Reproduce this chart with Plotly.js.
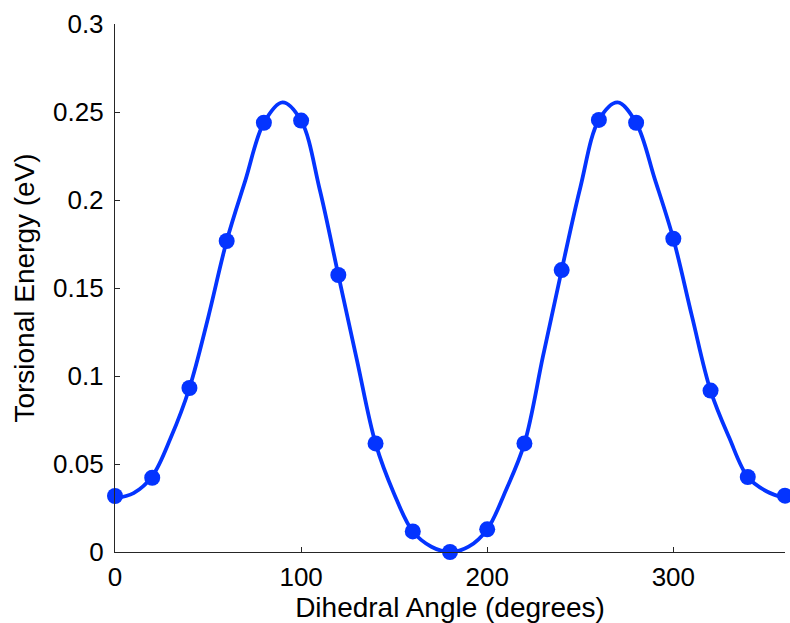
<!DOCTYPE html>
<html>
<head>
<meta charset="utf-8">
<script src="https://cdn.plot.ly/plotly-3.0.1.min.js"></script>
<style>
  html, body { margin: 0; padding: 0; background: #ffffff; }
  #chart { width: 790px; height: 623px; }
</style>
</head>
<body>
<div id="chart"></div>
<script>
// Computed torsional energies, sampled every 20 degrees
const angles = [0, 20, 40, 60, 80, 100, 120, 140, 160, 180, 200, 220, 240, 260, 280, 300, 320, 340, 360];
const energies = [0.0318, 0.0422, 0.0932, 0.1767, 0.2439, 0.2451, 0.1574, 0.0617, 0.0117, 0.0000,
                  0.0129, 0.0617, 0.1602, 0.2455, 0.2439, 0.1780, 0.0917, 0.0426, 0.0320];

// Fitted torsion curve, every 10 degrees
const fitAngles = [0, 10, 20, 30, 40, 50, 60, 70, 80, 90, 100, 110, 120, 130, 140, 150, 160, 170, 180,
                   190, 200, 210, 220, 230, 240, 250, 260, 270, 280, 290, 300, 310, 320, 330, 340, 350, 360];
const fitEnergies = [0.0305, 0.0335, 0.0430, 0.0650, 0.0932, 0.1330, 0.1767, 0.2110, 0.2439, 0.2555,
                     0.2451, 0.2060, 0.1574, 0.1090, 0.0617, 0.0330, 0.0117, 0.0030, 0.0000,
                     0.0030, 0.0129, 0.0350, 0.0617, 0.1114, 0.1602, 0.2070, 0.2455, 0.2555,
                     0.2439, 0.2120, 0.1780, 0.1340, 0.0917, 0.0650, 0.0426, 0.0345, 0.0305];

// Axis ticks
const xTicks = [0, 100, 200, 300];
const xTickText = ['0', '100', '200', '300'];
const yTicks = [0, 0.05, 0.1, 0.15, 0.2, 0.25, 0.3];
const yTickText = ['0', '0.05', '0.1', '0.15', '0.2', '0.25', '0.3'];

const blue = 'rgb(4, 52, 255)';
const axisColor = '#262626';
const fontFamily = '"Liberation Sans", Arial, sans-serif';

const traces = [
  {
    x: fitAngles,
    y: fitEnergies,
    type: 'scatter',
    mode: 'lines',
    line: { color: blue, width: 3.8, shape: 'spline', smoothing: 1.0 },
    hoverinfo: 'skip',
    cliponaxis: false
  },
  {
    x: angles,
    y: energies,
    type: 'scatter',
    mode: 'markers',
    marker: { color: blue, size: 16, line: { width: 0 } },
    cliponaxis: false
  }
];

const layout = {
  width: 790,
  height: 623,
  margin: { l: 115, r: 5, t: 24, b: 71, pad: 0 },
  paper_bgcolor: '#ffffff',
  plot_bgcolor: '#ffffff',
  showlegend: false,
  font: { family: fontFamily, size: 26, color: '#000000' },
  xaxis: {
    range: [0, 360],
    tickvals: xTicks,
    ticktext: xTickText,
    ticks: 'inside',
    ticklen: 5,
    tickwidth: 1,
    tickcolor: axisColor,
    showline: true,
    linecolor: axisColor,
    linewidth: 1.2,
    showgrid: false,
    zeroline: false,
    mirror: false,
    ticklabelstandoff: 2,
    tickfont: { family: fontFamily, size: 26, color: '#000000' },
    title: { text: 'Dihedral Angle (degrees)', font: { family: fontFamily, size: 28, color: '#000000' }, standoff: 3 }
  },
  yaxis: {
    range: [0, 0.3],
    tickvals: yTicks,
    ticktext: yTickText,
    ticks: 'inside',
    ticklen: 5,
    tickwidth: 1,
    tickcolor: axisColor,
    showline: true,
    linecolor: axisColor,
    linewidth: 1.2,
    showgrid: false,
    zeroline: false,
    mirror: false,
    ticklabelstandoff: 5,
    tickfont: { family: fontFamily, size: 26, color: '#000000' },
    title: { text: 'Torsional Energy (eV)', font: { family: fontFamily, size: 28, color: '#000000' }, standoff: 10 }
  }
};

Plotly.newPlot('chart', traces, layout, { displayModeBar: false, staticPlot: true });
</script>
</body>
</html>
